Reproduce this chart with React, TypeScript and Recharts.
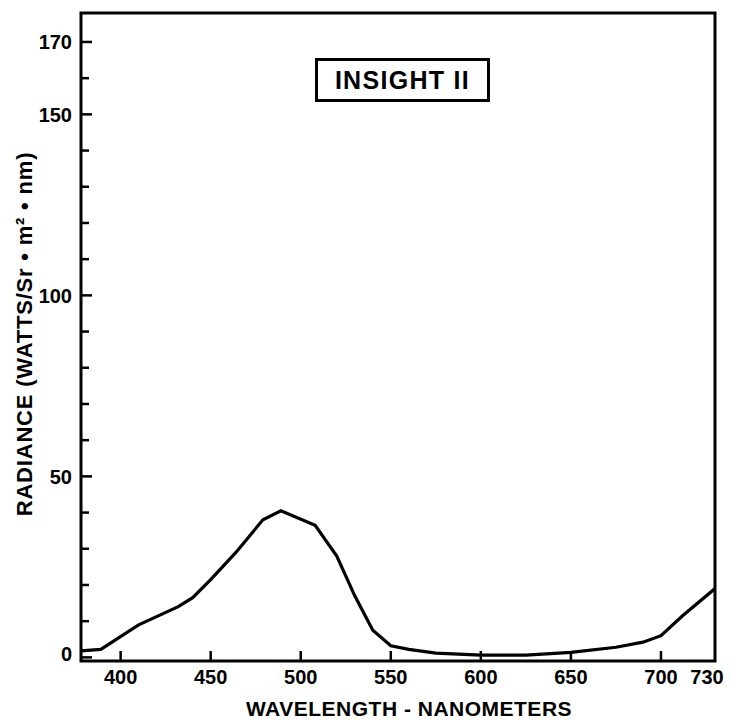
import React from 'react';
import { LineChart, Line, XAxis, YAxis, ReferenceArea, Label } from 'recharts';

// spectral radiance
const wavelength = [378, 389, 410, 432, 440, 450, 464, 479, 489, 508, 520, 530, 540, 550, 560, 575, 600, 625, 650, 675, 690, 700, 712, 730];
const radiance = [1.8, 2.2, 9, 14, 16.5, 21.5, 29, 38, 40.5, 36.5, 28, 17, 7.5, 3.2, 2.2, 1.2, 0.6, 0.6, 1.4, 2.8, 4.2, 6, 11.5, 19];

const xTicks = [400, 450, 500, 550, 600, 650, 700, 730];
const yTicks = [0, 10, 20, 30, 40, 50, 60, 70, 80, 90, 100, 110, 120, 130, 140, 150, 160, 170];
const yLabelled = [0, 50, 100, 150, 170];

const data = wavelength.map((w, i) => ({ w, r: radiance[i] }));

const FONT = '"Liberation Sans", Arial, Helvetica, sans-serif';
const X_MIN = 378;
const X_MAX = 730;

const YTick = ({ x, y, payload }: { x?: number; y?: number; payload?: { value: number } }) => {
  if (x == null || y == null || !payload) return null;
  const v = payload.value;
  const major = yLabelled.includes(v);
  return (
    <g>
      <line x1={x} x2={x + (major ? 11 : 8)} y1={y} y2={y} stroke="#000" strokeWidth={2.5} />
      {major && (
        <text
          x={x - 9}
          y={v === 0 ? y - 4 : y}
          dy="0.36em"
          textAnchor="end"
          fontFamily={FONT}
          fontWeight={700}
          fontSize={20}
          fill="#000"
        >
          {v}
        </text>
      )}
    </g>
  );
};

const XTick = ({ x, y, payload }: { x?: number; y?: number; payload?: { value: number } }) => {
  if (x == null || y == null || !payload) return null;
  const v = payload.value;
  const edge = v === X_MAX;
  return (
    <g>
      {!edge && <line x1={x} x2={x} y1={y} y2={y - 10} stroke="#000" strokeWidth={2.5} />}
      <text
        x={edge ? x - 8 : x}
        y={y + 16}
        dy="0.36em"
        textAnchor="middle"
        fontFamily={FONT}
        fontWeight={700}
        fontSize={20}
        fill="#000"
      >
        {v}
      </text>
    </g>
  );
};

export default function App() {
  return (
    <div style={{ position: 'relative', width: 725, height: 715, background: '#fff' }}>
      <LineChart width={725} height={715} data={data} margin={{ top: 5, right: 18, bottom: 32, left: 13 }}>
        <XAxis
          dataKey="w"
          type="number"
          domain={[X_MIN, X_MAX]}
          ticks={xTicks}
          interval={0}
          tickSize={0}
          tickMargin={0}
          axisLine={false}
          tickLine={false}
          tick={<XTick />}
          height={30}
          allowDataOverflow
        >
          <Label
            content={() => (
              <text
                x={401}
                y={700}
                dy="0.36em"
                textAnchor="middle"
                fontFamily={FONT}
                fontWeight={700}
                fontSize={21}
                letterSpacing={0.5}
                fill="#000"
              >
                WAVELENGTH - NANOMETERS
              </text>
            )}
          />
        </XAxis>
        <YAxis
          type="number"
          domain={[-1, 178]}
          ticks={yTicks}
          interval={0}
          tickSize={0}
          tickMargin={0}
          axisLine={false}
          tickLine={false}
          tick={<YTick />}
          width={60}
          allowDataOverflow
        >
          <Label
            content={() => (
              <text
                x={16}
                y={326}
                dy="0.36em"
                textAnchor="middle"
                transform="rotate(-90 16 326)"
                fontFamily={FONT}
                fontWeight={700}
                fontSize={22}
                letterSpacing={0.8}
                fill="#000"
              >
                RADIANCE (WATTS/Sr • m² • nm)
              </text>
            )}
          />
        </YAxis>
        <ReferenceArea
          x1={X_MIN}
          x2={X_MAX}
          y1={-1}
          y2={178}
          fill="none"
          stroke="#000"
          strokeWidth={3}
          ifOverflow="visible"
        />
        <Line
          type="linear"
          dataKey="r"
          stroke="#000"
          strokeWidth={3.2}
          dot={false}
          isAnimationActive={false}
        />
      </LineChart>
      <div
        style={{
          position: 'absolute',
          left: 307,
          top: 50,
          width: 175,
          height: 44,
          boxSizing: 'border-box',
          border: '3px solid #000',
          display: 'flex',
          alignItems: 'center',
          justifyContent: 'center',
          fontFamily: FONT,
          fontWeight: 700,
          fontSize: 25,
          letterSpacing: 1.3,
          color: '#000',
        }}
      >
        INSIGHT II
      </div>
    </div>
  );
}
